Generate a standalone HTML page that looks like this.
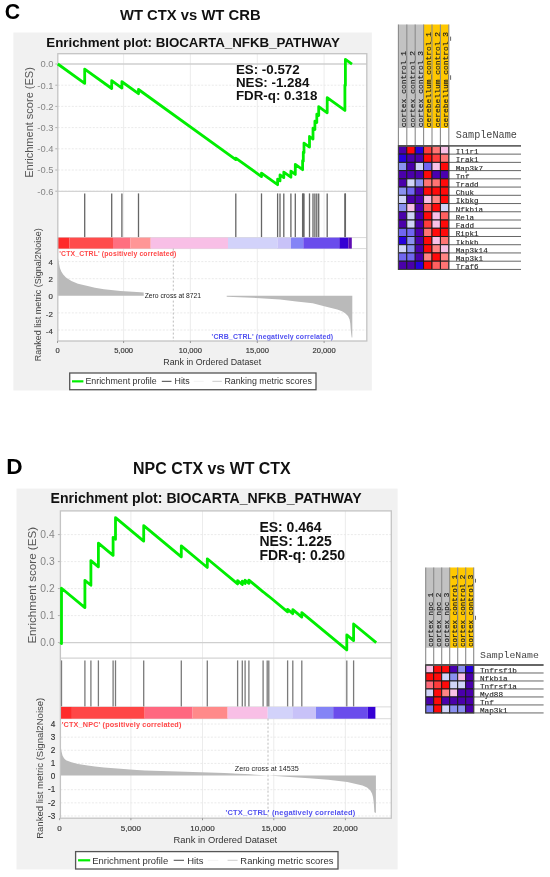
<!DOCTYPE html>
<html><head><meta charset="utf-8"><style>
html,body{margin:0;padding:0;background:#fff;width:550px;height:877px;overflow:hidden}
svg{display:block;filter:blur(0.35px)}

</style></head><body>
<svg width="550" height="877" viewBox="0 0 550 877">
<rect x="0.00" y="0.00" width="550.00" height="877.00" fill="#fff" />
<text x="4.80" y="18.90" font-family="'Liberation Sans', sans-serif" font-size="21.3" font-weight="bold" fill="#000" text-anchor="start" >C</text>
<text x="120.00" y="19.80" font-family="'Liberation Sans', sans-serif" font-size="14.8" font-weight="bold" fill="#111" text-anchor="start" >WT CTX vs WT CRB</text>
<text x="6.20" y="473.60" font-family="'Liberation Sans', sans-serif" font-size="22.6" font-weight="bold" fill="#000" text-anchor="start" >D</text>
<text x="133.10" y="474.30" font-family="'Liberation Sans', sans-serif" font-size="15.95" font-weight="bold" fill="#111" text-anchor="start" >NPC CTX vs WT CTX</text>
<rect x="13.40" y="32.50" width="358.40" height="358.00" fill="#f1f1f1" />
<rect x="57.80" y="53.70" width="309.00" height="287.30" fill="#fff" />
<line x1="123.60" y1="53.70" x2="123.60" y2="341.00" stroke="#eaeaea" stroke-width="0.9" />
<line x1="190.40" y1="53.70" x2="190.40" y2="341.00" stroke="#eaeaea" stroke-width="0.9" />
<line x1="257.30" y1="53.70" x2="257.30" y2="341.00" stroke="#eaeaea" stroke-width="0.9" />
<line x1="324.10" y1="53.70" x2="324.10" y2="341.00" stroke="#eaeaea" stroke-width="0.9" />
<text x="53.50" y="67.38" font-family="'Liberation Sans', sans-serif" font-size="9.4" font-weight="normal" fill="#858585" text-anchor="end" >0.0</text>
<line x1="55.30" y1="64.00" x2="57.80" y2="64.00" stroke="#b0b0b0" stroke-width="1" />
<line x1="57.80" y1="85.20" x2="366.80" y2="85.20" stroke="#e8e8e8" stroke-width="0.9" stroke-dasharray="2,1.5"/>
<text x="53.50" y="88.58" font-family="'Liberation Sans', sans-serif" font-size="9.4" font-weight="normal" fill="#858585" text-anchor="end" >-0.1</text>
<line x1="55.30" y1="85.20" x2="57.80" y2="85.20" stroke="#b0b0b0" stroke-width="1" />
<line x1="57.80" y1="106.40" x2="366.80" y2="106.40" stroke="#e8e8e8" stroke-width="0.9" stroke-dasharray="2,1.5"/>
<text x="53.50" y="109.78" font-family="'Liberation Sans', sans-serif" font-size="9.4" font-weight="normal" fill="#858585" text-anchor="end" >-0.2</text>
<line x1="55.30" y1="106.40" x2="57.80" y2="106.40" stroke="#b0b0b0" stroke-width="1" />
<line x1="57.80" y1="127.60" x2="366.80" y2="127.60" stroke="#e8e8e8" stroke-width="0.9" stroke-dasharray="2,1.5"/>
<text x="53.50" y="130.98" font-family="'Liberation Sans', sans-serif" font-size="9.4" font-weight="normal" fill="#858585" text-anchor="end" >-0.3</text>
<line x1="55.30" y1="127.60" x2="57.80" y2="127.60" stroke="#b0b0b0" stroke-width="1" />
<line x1="57.80" y1="148.80" x2="366.80" y2="148.80" stroke="#e8e8e8" stroke-width="0.9" stroke-dasharray="2,1.5"/>
<text x="53.50" y="152.18" font-family="'Liberation Sans', sans-serif" font-size="9.4" font-weight="normal" fill="#858585" text-anchor="end" >-0.4</text>
<line x1="55.30" y1="148.80" x2="57.80" y2="148.80" stroke="#b0b0b0" stroke-width="1" />
<line x1="57.80" y1="170.00" x2="366.80" y2="170.00" stroke="#e8e8e8" stroke-width="0.9" stroke-dasharray="2,1.5"/>
<text x="53.50" y="173.38" font-family="'Liberation Sans', sans-serif" font-size="9.4" font-weight="normal" fill="#858585" text-anchor="end" >-0.5</text>
<line x1="55.30" y1="170.00" x2="57.80" y2="170.00" stroke="#b0b0b0" stroke-width="1" />
<line x1="57.80" y1="191.20" x2="366.80" y2="191.20" stroke="#e8e8e8" stroke-width="0.9" stroke-dasharray="2,1.5"/>
<text x="53.50" y="194.58" font-family="'Liberation Sans', sans-serif" font-size="9.4" font-weight="normal" fill="#858585" text-anchor="end" >-0.6</text>
<line x1="55.30" y1="191.20" x2="57.80" y2="191.20" stroke="#b0b0b0" stroke-width="1" />
<line x1="57.80" y1="64.00" x2="366.80" y2="64.00" stroke="#cfcfcf" stroke-width="1.3" />
<line x1="57.80" y1="191.40" x2="366.80" y2="191.40" stroke="#d4d4d4" stroke-width="1.2" />
<line x1="84.70" y1="193.40" x2="84.70" y2="237.60" stroke="#666" stroke-width="1.3" />
<line x1="111.70" y1="193.40" x2="111.70" y2="237.60" stroke="#666" stroke-width="1.3" />
<line x1="121.90" y1="193.40" x2="121.90" y2="237.60" stroke="#666" stroke-width="1.3" />
<line x1="138.50" y1="193.40" x2="138.50" y2="237.60" stroke="#666" stroke-width="1.3" />
<line x1="235.80" y1="193.40" x2="235.80" y2="237.60" stroke="#666" stroke-width="1.3" />
<line x1="261.50" y1="193.40" x2="261.50" y2="237.60" stroke="#666" stroke-width="1.3" />
<line x1="277.60" y1="193.40" x2="277.60" y2="237.60" stroke="#666" stroke-width="1.3" />
<line x1="280.00" y1="193.40" x2="280.00" y2="237.60" stroke="#666" stroke-width="1.3" />
<line x1="283.80" y1="193.40" x2="283.80" y2="237.60" stroke="#666" stroke-width="1.3" />
<line x1="290.90" y1="193.40" x2="290.90" y2="237.60" stroke="#666" stroke-width="1.3" />
<line x1="295.30" y1="193.40" x2="295.30" y2="237.60" stroke="#666" stroke-width="1.3" />
<line x1="302.60" y1="193.40" x2="302.60" y2="237.60" stroke="#666" stroke-width="1.3" />
<line x1="303.30" y1="193.40" x2="303.30" y2="237.60" stroke="#666" stroke-width="1.3" />
<line x1="304.00" y1="193.40" x2="304.00" y2="237.60" stroke="#666" stroke-width="1.3" />
<line x1="309.50" y1="193.40" x2="309.50" y2="237.60" stroke="#666" stroke-width="1.3" />
<line x1="313.00" y1="193.40" x2="313.00" y2="237.60" stroke="#666" stroke-width="1.3" />
<line x1="314.90" y1="193.40" x2="314.90" y2="237.60" stroke="#666" stroke-width="1.3" />
<line x1="316.80" y1="193.40" x2="316.80" y2="237.60" stroke="#666" stroke-width="1.3" />
<line x1="318.70" y1="193.40" x2="318.70" y2="237.60" stroke="#666" stroke-width="1.3" />
<line x1="327.20" y1="193.40" x2="327.20" y2="237.60" stroke="#666" stroke-width="1.3" />
<line x1="344.90" y1="193.40" x2="344.90" y2="237.60" stroke="#666" stroke-width="1.3" />
<line x1="345.40" y1="193.40" x2="345.40" y2="237.60" stroke="#666" stroke-width="1.3" />
<line x1="57.80" y1="237.60" x2="366.80" y2="237.60" stroke="#dadada" stroke-width="1" />
<line x1="57.80" y1="248.60" x2="366.80" y2="248.60" stroke="#dadada" stroke-width="1" />
<rect x="57.80" y="237.60" width="11.70" height="11.00" fill="#ff2a2a" />
<rect x="69.50" y="237.60" width="43.50" height="11.00" fill="#ff4b4b" />
<rect x="113.00" y="237.60" width="17.50" height="11.00" fill="#ff6f80" />
<rect x="130.50" y="237.60" width="20.20" height="11.00" fill="#ff9696" />
<rect x="150.70" y="237.60" width="77.30" height="11.00" fill="#f8bfe6" />
<rect x="228.00" y="237.60" width="49.50" height="11.00" fill="#d2d2fa" />
<rect x="277.50" y="237.60" width="13.50" height="11.00" fill="#c8c2f8" />
<rect x="291.00" y="237.60" width="12.30" height="11.00" fill="#8484f6" />
<rect x="303.30" y="237.60" width="36.00" height="11.00" fill="#6a4cec" />
<rect x="339.30" y="237.60" width="9.10" height="11.00" fill="#3500d4" />
<rect x="348.40" y="237.60" width="3.40" height="11.00" fill="#5e0cb4" />
<line x1="57.80" y1="261.60" x2="366.80" y2="261.60" stroke="#e8e8e8" stroke-width="0.9" stroke-dasharray="2,1.5"/>
<line x1="57.80" y1="278.70" x2="366.80" y2="278.70" stroke="#e8e8e8" stroke-width="0.9" stroke-dasharray="2,1.5"/>
<line x1="57.80" y1="312.90" x2="366.80" y2="312.90" stroke="#e8e8e8" stroke-width="0.9" stroke-dasharray="2,1.5"/>
<line x1="57.80" y1="330.00" x2="366.80" y2="330.00" stroke="#e8e8e8" stroke-width="0.9" stroke-dasharray="2,1.5"/>
<path d="M57.80,295.80 L57.80,257.50 L58.30,259.80 L59.00,263.50 L59.90,268.00 L61.30,271.50 L63.20,274.50 L66.00,277.50 L71.40,281.10 L78.00,283.80 L87.70,286.00 L95.00,287.80 L104.00,289.30 L120.50,291.10 L136.80,292.10 L144.00,292.50 L150.00,293.20 L162.00,294.50 L173.30,295.80 L227.00,296.80 L260.00,298.20 L280.00,299.40 L296.40,301.40 L312.70,303.30 L324.20,306.30 L337.30,309.50 L342.00,311.30 L345.50,313.60 L348.00,316.00 L349.60,319.40 L350.30,323.50 L350.70,329.20 L351.20,334.00 L351.70,337.40 L352.30,337.60 L352.30,295.80 Z" fill="#bababa"/>
<line x1="173.30" y1="248.60" x2="173.30" y2="341.00" stroke="#b4b4b4" stroke-width="0.9" stroke-dasharray="2,2"/>
<rect x="143.70" y="291.94" width="83.00" height="7.46" fill="#fff" />
<text x="144.70" y="297.70" font-family="'Liberation Sans', sans-serif" font-size="6.78" font-weight="normal" fill="#222" text-anchor="start" >Zero cross at 8721</text>
<text x="52.90" y="264.64" font-family="'Liberation Sans', sans-serif" font-size="7.9" font-weight="normal" fill="#333" text-anchor="end" stroke="#333" stroke-width="0.15">4</text>
<text x="52.90" y="281.99" font-family="'Liberation Sans', sans-serif" font-size="7.9" font-weight="normal" fill="#333" text-anchor="end" stroke="#333" stroke-width="0.15">2</text>
<text x="52.90" y="299.34" font-family="'Liberation Sans', sans-serif" font-size="7.9" font-weight="normal" fill="#333" text-anchor="end" stroke="#333" stroke-width="0.15">0</text>
<text x="52.90" y="316.69" font-family="'Liberation Sans', sans-serif" font-size="7.9" font-weight="normal" fill="#333" text-anchor="end" stroke="#333" stroke-width="0.15">-2</text>
<text x="52.90" y="334.04" font-family="'Liberation Sans', sans-serif" font-size="7.9" font-weight="normal" fill="#333" text-anchor="end" stroke="#333" stroke-width="0.15">-4</text>
<text x="59.30" y="256.30" font-family="'Liberation Sans', sans-serif" font-size="6.85" font-weight="bold" fill="#ff4848" text-anchor="start" letter-spacing="0.15">'CTX_CTRL' (positively correlated)</text>
<text x="211.60" y="338.60" font-family="'Liberation Sans', sans-serif" font-size="6.95" font-weight="bold" fill="#5050f0" text-anchor="start" letter-spacing="0.15">'CRB_CTRL' (negatively correlated)</text>
<rect x="57.80" y="53.70" width="309.00" height="287.30" fill="none" stroke="#c4c4c4" stroke-width="1.3"/>
<path d="M57.80,64.00 L84.70,83.37 L84.70,69.07 L111.70,88.51 L111.70,80.71 L121.90,88.05 L121.90,81.75 L138.50,93.70 L138.50,89.50 L235.80,159.56 L235.80,158.06 L261.50,176.56 L261.50,173.06 L277.60,184.66 L277.60,179.16 L280.00,180.88 L280.00,174.88 L283.80,177.62 L283.80,172.12 L290.90,177.23 L290.90,171.23 L295.30,174.40 L295.30,164.40 L302.60,169.66 L302.60,160.66 L303.30,161.16 L303.30,152.16 L304.00,152.66 L304.00,143.06 L309.50,147.02 L309.50,136.52 L313.00,139.04 L313.00,128.14 L314.90,129.51 L314.90,121.16 L316.80,122.53 L316.80,114.18 L318.70,115.55 L318.70,106.65 L327.20,112.77 L327.20,97.67 L344.90,110.41 L344.90,85.11 L345.40,85.47 L345.40,59.47 L352.00,64.22" fill="none" stroke="#00ee00" stroke-width="2.8" stroke-linejoin="round" stroke-linecap="butt"/>
<text x="57.50" y="352.90" font-family="'Liberation Sans', sans-serif" font-size="7.55" font-weight="normal" fill="#333" text-anchor="middle" stroke="#333" stroke-width="0.15">0</text>
<line x1="57.50" y1="341.00" x2="57.50" y2="343.00" stroke="#999" stroke-width="1" />
<text x="123.60" y="352.90" font-family="'Liberation Sans', sans-serif" font-size="7.55" font-weight="normal" fill="#333" text-anchor="middle" stroke="#333" stroke-width="0.15">5,000</text>
<line x1="123.60" y1="341.00" x2="123.60" y2="343.00" stroke="#999" stroke-width="1" />
<text x="190.40" y="352.90" font-family="'Liberation Sans', sans-serif" font-size="7.55" font-weight="normal" fill="#333" text-anchor="middle" stroke="#333" stroke-width="0.15">10,000</text>
<line x1="190.40" y1="341.00" x2="190.40" y2="343.00" stroke="#999" stroke-width="1" />
<text x="257.30" y="352.90" font-family="'Liberation Sans', sans-serif" font-size="7.55" font-weight="normal" fill="#333" text-anchor="middle" stroke="#333" stroke-width="0.15">15,000</text>
<line x1="257.30" y1="341.00" x2="257.30" y2="343.00" stroke="#999" stroke-width="1" />
<text x="324.10" y="352.90" font-family="'Liberation Sans', sans-serif" font-size="7.55" font-weight="normal" fill="#333" text-anchor="middle" stroke="#333" stroke-width="0.15">20,000</text>
<line x1="324.10" y1="341.00" x2="324.10" y2="343.00" stroke="#999" stroke-width="1" />
<text x="163.30" y="365.10" font-family="'Liberation Sans', sans-serif" font-size="8.85" font-weight="normal" fill="#333" text-anchor="start" >Rank in Ordered Dataset</text>
<text x="0" y="0" font-family="'Liberation Sans', sans-serif" font-size="11.0" font-weight="normal" fill="#555" text-anchor="middle" dominant-baseline="central" transform="translate(28.70,122.50) rotate(-90)">Enrichment score (ES)</text>
<text x="0" y="0" font-family="'Liberation Sans', sans-serif" font-size="9.0" font-weight="normal" fill="#444" text-anchor="middle" dominant-baseline="central" transform="translate(37.90,294.80) rotate(-90)">Ranked list metric (Signal2Noise)</text>
<text x="235.90" y="73.80" font-family="'Liberation Sans', sans-serif" font-size="13.35" font-weight="bold" fill="#111" text-anchor="start" >ES: -0.572</text>
<text x="235.90" y="86.70" font-family="'Liberation Sans', sans-serif" font-size="13.35" font-weight="bold" fill="#111" text-anchor="start" >NES: -1.284</text>
<text x="235.90" y="99.60" font-family="'Liberation Sans', sans-serif" font-size="13.35" font-weight="bold" fill="#111" text-anchor="start" >FDR-q: 0.318</text>
<text x="46.30" y="46.50" font-family="'Liberation Sans', sans-serif" font-size="13.3" font-weight="bold" fill="#111" text-anchor="start" >Enrichment plot: BIOCARTA_NFKB_PATHWAY</text>
<rect x="69.70" y="373.00" width="246.30" height="16.70" fill="#fff" stroke="#555" stroke-width="1.3"/>
<line x1="72.00" y1="381.35" x2="83.40" y2="381.35" stroke="#00ee00" stroke-width="2.2" />
<text x="85.40" y="384.45" font-family="'Liberation Sans', sans-serif" font-size="8.85" font-weight="normal" fill="#333" text-anchor="start" >Enrichment profile</text>
<line x1="161.80" y1="381.35" x2="171.50" y2="381.35" stroke="#555" stroke-width="1.1" />
<text x="174.50" y="384.45" font-family="'Liberation Sans', sans-serif" font-size="8.85" font-weight="normal" fill="#333" text-anchor="start" >Hits</text>
<line x1="193.70" y1="381.35" x2="203.70" y2="381.35" stroke="#f4f4f4" stroke-width="1.1" />
<line x1="212.40" y1="381.35" x2="221.80" y2="381.35" stroke="#d0d0d0" stroke-width="1.1" />
<text x="224.40" y="384.45" font-family="'Liberation Sans', sans-serif" font-size="8.85" font-weight="normal" fill="#333" text-anchor="start" >Ranking metric scores</text>
<rect x="16.50" y="488.60" width="381.10" height="380.80" fill="#f1f1f1" />
<rect x="60.40" y="510.90" width="330.90" height="307.30" fill="#fff" />
<line x1="130.90" y1="510.90" x2="130.90" y2="818.20" stroke="#eaeaea" stroke-width="0.9" />
<line x1="202.50" y1="510.90" x2="202.50" y2="818.20" stroke="#eaeaea" stroke-width="0.9" />
<line x1="273.80" y1="510.90" x2="273.80" y2="818.20" stroke="#eaeaea" stroke-width="0.9" />
<line x1="345.40" y1="510.90" x2="345.40" y2="818.20" stroke="#eaeaea" stroke-width="0.9" />
<text x="54.70" y="646.31" font-family="'Liberation Sans', sans-serif" font-size="10.3" font-weight="normal" fill="#858585" text-anchor="end" >0.0</text>
<line x1="57.90" y1="642.60" x2="60.40" y2="642.60" stroke="#b0b0b0" stroke-width="1" />
<line x1="60.40" y1="615.60" x2="391.30" y2="615.60" stroke="#e8e8e8" stroke-width="0.9" stroke-dasharray="2,1.5"/>
<text x="54.70" y="619.31" font-family="'Liberation Sans', sans-serif" font-size="10.3" font-weight="normal" fill="#858585" text-anchor="end" >0.1</text>
<line x1="57.90" y1="615.60" x2="60.40" y2="615.60" stroke="#b0b0b0" stroke-width="1" />
<line x1="60.40" y1="588.60" x2="391.30" y2="588.60" stroke="#e8e8e8" stroke-width="0.9" stroke-dasharray="2,1.5"/>
<text x="54.70" y="592.31" font-family="'Liberation Sans', sans-serif" font-size="10.3" font-weight="normal" fill="#858585" text-anchor="end" >0.2</text>
<line x1="57.90" y1="588.60" x2="60.40" y2="588.60" stroke="#b0b0b0" stroke-width="1" />
<line x1="60.40" y1="561.60" x2="391.30" y2="561.60" stroke="#e8e8e8" stroke-width="0.9" stroke-dasharray="2,1.5"/>
<text x="54.70" y="565.31" font-family="'Liberation Sans', sans-serif" font-size="10.3" font-weight="normal" fill="#858585" text-anchor="end" >0.3</text>
<line x1="57.90" y1="561.60" x2="60.40" y2="561.60" stroke="#b0b0b0" stroke-width="1" />
<line x1="60.40" y1="534.60" x2="391.30" y2="534.60" stroke="#e8e8e8" stroke-width="0.9" stroke-dasharray="2,1.5"/>
<text x="54.70" y="538.31" font-family="'Liberation Sans', sans-serif" font-size="10.3" font-weight="normal" fill="#858585" text-anchor="end" >0.4</text>
<line x1="57.90" y1="534.60" x2="60.40" y2="534.60" stroke="#b0b0b0" stroke-width="1" />
<line x1="60.40" y1="642.60" x2="391.30" y2="642.60" stroke="#cfcfcf" stroke-width="1.3" />
<line x1="60.40" y1="658.20" x2="391.30" y2="658.20" stroke="#d4d4d4" stroke-width="1.2" />
<line x1="61.50" y1="660.40" x2="61.50" y2="706.90" stroke="#7a7a7a" stroke-width="1.3" />
<line x1="84.90" y1="660.40" x2="84.90" y2="706.90" stroke="#7a7a7a" stroke-width="1.3" />
<line x1="90.90" y1="660.40" x2="90.90" y2="706.90" stroke="#7a7a7a" stroke-width="1.3" />
<line x1="98.40" y1="660.40" x2="98.40" y2="706.90" stroke="#7a7a7a" stroke-width="1.3" />
<line x1="113.10" y1="660.40" x2="113.10" y2="706.90" stroke="#7a7a7a" stroke-width="1.3" />
<line x1="115.50" y1="660.40" x2="115.50" y2="706.90" stroke="#7a7a7a" stroke-width="1.3" />
<line x1="143.70" y1="660.40" x2="143.70" y2="706.90" stroke="#7a7a7a" stroke-width="1.3" />
<line x1="181.30" y1="660.40" x2="181.30" y2="706.90" stroke="#7a7a7a" stroke-width="1.3" />
<line x1="207.30" y1="660.40" x2="207.30" y2="706.90" stroke="#7a7a7a" stroke-width="1.3" />
<line x1="237.60" y1="660.40" x2="237.60" y2="706.90" stroke="#7a7a7a" stroke-width="1.3" />
<line x1="242.30" y1="660.40" x2="242.30" y2="706.90" stroke="#7a7a7a" stroke-width="1.3" />
<line x1="245.10" y1="660.40" x2="245.10" y2="706.90" stroke="#7a7a7a" stroke-width="1.3" />
<line x1="248.90" y1="660.40" x2="248.90" y2="706.90" stroke="#7a7a7a" stroke-width="1.3" />
<line x1="263.10" y1="660.40" x2="263.10" y2="706.90" stroke="#7a7a7a" stroke-width="1.3" />
<line x1="267.20" y1="660.40" x2="267.20" y2="706.90" stroke="#7a7a7a" stroke-width="1.3" />
<line x1="268.80" y1="660.40" x2="268.80" y2="706.90" stroke="#7a7a7a" stroke-width="1.3" />
<line x1="287.60" y1="660.40" x2="287.60" y2="706.90" stroke="#7a7a7a" stroke-width="1.3" />
<line x1="292.80" y1="660.40" x2="292.80" y2="706.90" stroke="#7a7a7a" stroke-width="1.3" />
<line x1="301.80" y1="660.40" x2="301.80" y2="706.90" stroke="#7a7a7a" stroke-width="1.3" />
<line x1="346.80" y1="660.40" x2="346.80" y2="706.90" stroke="#7a7a7a" stroke-width="1.3" />
<line x1="353.60" y1="660.40" x2="353.60" y2="706.90" stroke="#7a7a7a" stroke-width="1.3" />
<line x1="60.40" y1="706.90" x2="391.30" y2="706.90" stroke="#dadada" stroke-width="1" />
<line x1="60.40" y1="718.70" x2="391.30" y2="718.70" stroke="#dadada" stroke-width="1" />
<rect x="60.40" y="706.90" width="11.50" height="11.80" fill="#ff2a2a" />
<rect x="71.90" y="706.90" width="72.80" height="11.80" fill="#ff4646" />
<rect x="144.70" y="706.90" width="47.90" height="11.80" fill="#ff6880" />
<rect x="192.60" y="706.90" width="35.00" height="11.80" fill="#ff8a8a" />
<rect x="227.60" y="706.90" width="40.10" height="11.80" fill="#f8bfe6" />
<rect x="267.70" y="706.90" width="24.60" height="11.80" fill="#d2d2fa" />
<rect x="292.30" y="706.90" width="23.70" height="11.80" fill="#c8c2f8" />
<rect x="316.00" y="706.90" width="17.20" height="11.80" fill="#8484f6" />
<rect x="333.20" y="706.90" width="34.60" height="11.80" fill="#6a4cec" />
<rect x="367.80" y="706.90" width="7.60" height="11.80" fill="#3500d4" />
<line x1="60.40" y1="724.00" x2="391.30" y2="724.00" stroke="#e8e8e8" stroke-width="0.9" stroke-dasharray="2,1.5"/>
<line x1="60.40" y1="737.14" x2="391.30" y2="737.14" stroke="#e8e8e8" stroke-width="0.9" stroke-dasharray="2,1.5"/>
<line x1="60.40" y1="750.28" x2="391.30" y2="750.28" stroke="#e8e8e8" stroke-width="0.9" stroke-dasharray="2,1.5"/>
<line x1="60.40" y1="763.42" x2="391.30" y2="763.42" stroke="#e8e8e8" stroke-width="0.9" stroke-dasharray="2,1.5"/>
<line x1="60.40" y1="789.70" x2="391.30" y2="789.70" stroke="#e8e8e8" stroke-width="0.9" stroke-dasharray="2,1.5"/>
<line x1="60.40" y1="802.84" x2="391.30" y2="802.84" stroke="#e8e8e8" stroke-width="0.9" stroke-dasharray="2,1.5"/>
<line x1="60.40" y1="815.98" x2="391.30" y2="815.98" stroke="#e8e8e8" stroke-width="0.9" stroke-dasharray="2,1.5"/>
<path d="M60.40,775.60 L60.40,744.50 L60.80,747.00 L61.40,751.00 L62.50,755.50 L64.00,758.30 L66.00,760.30 L71.40,762.20 L78.00,764.00 L87.70,765.50 L95.00,766.60 L104.00,767.50 L120.50,768.80 L130.00,769.50 L136.80,770.00 L145.00,770.40 L177.30,771.40 L224.60,772.90 L250.00,774.30 L268.00,775.60 L290.00,777.00 L309.10,778.30 L328.20,779.80 L347.30,782.10 L362.50,785.50 L367.00,787.50 L370.20,790.30 L372.00,793.50 L373.00,797.00 L373.80,803.00 L374.40,812.30 L375.90,813.00 L375.90,775.60 Z" fill="#bababa"/>
<line x1="268.00" y1="718.70" x2="268.00" y2="818.20" stroke="#b4b4b4" stroke-width="0.9" stroke-dasharray="2,2"/>
<rect x="233.80" y="765.28" width="66.00" height="7.92" fill="#fff" />
<text x="234.80" y="771.40" font-family="'Liberation Sans', sans-serif" font-size="7.2" font-weight="normal" fill="#222" text-anchor="start" >Zero cross at 14535</text>
<text x="55.30" y="726.95" font-family="'Liberation Sans', sans-serif" font-size="8.2" font-weight="normal" fill="#333" text-anchor="end" stroke="#333" stroke-width="0.15">4</text>
<text x="55.30" y="740.05" font-family="'Liberation Sans', sans-serif" font-size="8.2" font-weight="normal" fill="#333" text-anchor="end" stroke="#333" stroke-width="0.15">3</text>
<text x="55.30" y="753.15" font-family="'Liberation Sans', sans-serif" font-size="8.2" font-weight="normal" fill="#333" text-anchor="end" stroke="#333" stroke-width="0.15">2</text>
<text x="55.30" y="766.25" font-family="'Liberation Sans', sans-serif" font-size="8.2" font-weight="normal" fill="#333" text-anchor="end" stroke="#333" stroke-width="0.15">1</text>
<text x="55.30" y="779.35" font-family="'Liberation Sans', sans-serif" font-size="8.2" font-weight="normal" fill="#333" text-anchor="end" stroke="#333" stroke-width="0.15">0</text>
<text x="55.30" y="792.45" font-family="'Liberation Sans', sans-serif" font-size="8.2" font-weight="normal" fill="#333" text-anchor="end" stroke="#333" stroke-width="0.15">-1</text>
<text x="55.30" y="805.55" font-family="'Liberation Sans', sans-serif" font-size="8.2" font-weight="normal" fill="#333" text-anchor="end" stroke="#333" stroke-width="0.15">-2</text>
<text x="55.30" y="818.65" font-family="'Liberation Sans', sans-serif" font-size="8.2" font-weight="normal" fill="#333" text-anchor="end" stroke="#333" stroke-width="0.15">-3</text>
<text x="61.70" y="726.90" font-family="'Liberation Sans', sans-serif" font-size="7.27" font-weight="bold" fill="#ff4848" text-anchor="start" letter-spacing="0.15">'CTX_NPC' (positively correlated)</text>
<text x="225.50" y="815.20" font-family="'Liberation Sans', sans-serif" font-size="7.5" font-weight="bold" fill="#5050f0" text-anchor="start" letter-spacing="0.15">'CTX_CTRL' (negatively correlated)</text>
<rect x="60.40" y="510.90" width="330.90" height="307.30" fill="none" stroke="#c4c4c4" stroke-width="1.3"/>
<path d="M60.40,642.60 L61.50,643.51 L61.50,588.21 L84.90,607.61 L84.90,580.31 L90.90,585.28 L90.90,560.58 L98.40,566.80 L98.40,543.20 L113.10,555.39 L113.10,537.29 L115.50,539.28 L115.50,517.68 L143.70,541.06 L143.70,525.66 L181.30,556.83 L181.30,545.93 L207.30,567.48 L207.30,558.78 L237.60,583.90 L237.60,580.60 L242.30,584.50 L242.30,581.20 L245.10,583.52 L245.10,580.22 L248.90,583.37 L248.90,580.07 L263.10,591.84 L263.10,591.74 L267.20,595.14 L267.20,595.04 L268.80,596.36 L268.80,596.26 L287.60,611.85 L287.60,609.35 L292.80,613.66 L292.80,609.66 L301.80,617.12 L301.80,612.62 L346.80,649.93 L346.80,634.93 L353.60,640.56 L353.60,623.96 L376.20,642.70" fill="none" stroke="#00ee00" stroke-width="2.8" stroke-linejoin="round" stroke-linecap="butt"/>
<text x="59.60" y="830.70" font-family="'Liberation Sans', sans-serif" font-size="8.05" font-weight="normal" fill="#333" text-anchor="middle" stroke="#333" stroke-width="0.15">0</text>
<line x1="59.60" y1="818.20" x2="59.60" y2="820.20" stroke="#999" stroke-width="1" />
<text x="130.90" y="830.70" font-family="'Liberation Sans', sans-serif" font-size="8.05" font-weight="normal" fill="#333" text-anchor="middle" stroke="#333" stroke-width="0.15">5,000</text>
<line x1="130.90" y1="818.20" x2="130.90" y2="820.20" stroke="#999" stroke-width="1" />
<text x="202.50" y="830.70" font-family="'Liberation Sans', sans-serif" font-size="8.05" font-weight="normal" fill="#333" text-anchor="middle" stroke="#333" stroke-width="0.15">10,000</text>
<line x1="202.50" y1="818.20" x2="202.50" y2="820.20" stroke="#999" stroke-width="1" />
<text x="273.80" y="830.70" font-family="'Liberation Sans', sans-serif" font-size="8.05" font-weight="normal" fill="#333" text-anchor="middle" stroke="#333" stroke-width="0.15">15,000</text>
<line x1="273.80" y1="818.20" x2="273.80" y2="820.20" stroke="#999" stroke-width="1" />
<text x="345.40" y="830.70" font-family="'Liberation Sans', sans-serif" font-size="8.05" font-weight="normal" fill="#333" text-anchor="middle" stroke="#333" stroke-width="0.15">20,000</text>
<line x1="345.40" y1="818.20" x2="345.40" y2="820.20" stroke="#999" stroke-width="1" />
<text x="173.50" y="842.50" font-family="'Liberation Sans', sans-serif" font-size="9.4" font-weight="normal" fill="#333" text-anchor="start" >Rank in Ordered Dataset</text>
<text x="0" y="0" font-family="'Liberation Sans', sans-serif" font-size="11.6" font-weight="normal" fill="#555" text-anchor="middle" dominant-baseline="central" transform="translate(31.70,585.30) rotate(-90)">Enrichment score (ES)</text>
<text x="0" y="0" font-family="'Liberation Sans', sans-serif" font-size="9.55" font-weight="normal" fill="#444" text-anchor="middle" dominant-baseline="central" transform="translate(39.10,768.30) rotate(-90)">Ranked list metric (Signal2Noise)</text>
<text x="259.40" y="531.50" font-family="'Liberation Sans', sans-serif" font-size="14.0" font-weight="bold" fill="#111" text-anchor="start" >ES: 0.464</text>
<text x="259.40" y="545.50" font-family="'Liberation Sans', sans-serif" font-size="14.0" font-weight="bold" fill="#111" text-anchor="start" >NES: 1.225</text>
<text x="259.40" y="559.50" font-family="'Liberation Sans', sans-serif" font-size="14.0" font-weight="bold" fill="#111" text-anchor="start" >FDR-q: 0.250</text>
<text x="50.50" y="502.80" font-family="'Liberation Sans', sans-serif" font-size="14.1" font-weight="bold" fill="#111" text-anchor="start" >Enrichment plot: BIOCARTA_NFKB_PATHWAY</text>
<rect x="75.60" y="851.60" width="262.40" height="17.40" fill="#fff" stroke="#555" stroke-width="1.3"/>
<line x1="78.05" y1="860.30" x2="90.19" y2="860.30" stroke="#00ee00" stroke-width="2.2" />
<text x="92.32" y="863.60" font-family="'Liberation Sans', sans-serif" font-size="9.425249999999998" font-weight="normal" fill="#333" text-anchor="start" >Enrichment profile</text>
<line x1="173.69" y1="860.30" x2="184.02" y2="860.30" stroke="#555" stroke-width="1.1" />
<text x="187.21" y="863.60" font-family="'Liberation Sans', sans-serif" font-size="9.425249999999998" font-weight="normal" fill="#333" text-anchor="start" >Hits</text>
<line x1="207.66" y1="860.30" x2="218.31" y2="860.30" stroke="#f4f4f4" stroke-width="1.1" />
<line x1="227.58" y1="860.30" x2="237.59" y2="860.30" stroke="#d0d0d0" stroke-width="1.1" />
<text x="240.36" y="863.60" font-family="'Liberation Sans', sans-serif" font-size="9.425249999999998" font-weight="normal" fill="#333" text-anchor="start" >Ranking metric scores</text>
<rect x="398.40" y="24.50" width="8.40" height="103.50" fill="#c2c2c2" />
<rect x="406.80" y="24.50" width="8.40" height="103.50" fill="#c2c2c2" />
<rect x="415.20" y="24.50" width="8.40" height="103.50" fill="#c2c2c2" />
<rect x="423.60" y="24.50" width="8.40" height="103.50" fill="#ffc800" />
<rect x="432.00" y="24.50" width="8.40" height="103.50" fill="#ffc800" />
<rect x="440.40" y="24.50" width="8.40" height="103.50" fill="#ffc800" />
<rect x="398.40" y="128.00" width="50.40" height="17.90" fill="#fff" />
<text x="0" y="0" font-family="'Liberation Mono', monospace" font-size="7.95" fill="#1e1e1e" stroke="#1e1e1e" stroke-width="0.18" transform="translate(406.25,127.20) rotate(-90)">cortex_control_1</text>
<text x="0" y="0" font-family="'Liberation Mono', monospace" font-size="7.95" fill="#1e1e1e" stroke="#1e1e1e" stroke-width="0.18" transform="translate(414.65,127.20) rotate(-90)">cortex_control_2</text>
<text x="0" y="0" font-family="'Liberation Mono', monospace" font-size="7.95" fill="#1e1e1e" stroke="#1e1e1e" stroke-width="0.18" transform="translate(423.05,127.20) rotate(-90)">cortex_control_3</text>
<text x="0" y="0" font-family="'Liberation Mono', monospace" font-size="7.95" fill="#1e1e1e" stroke="#1e1e1e" stroke-width="0.18" transform="translate(431.45,127.20) rotate(-90)">cerebellum_control_1</text>
<text x="0" y="0" font-family="'Liberation Mono', monospace" font-size="7.95" fill="#1e1e1e" stroke="#1e1e1e" stroke-width="0.18" transform="translate(439.85,127.20) rotate(-90)">cerebellum_control_2</text>
<text x="0" y="0" font-family="'Liberation Mono', monospace" font-size="7.95" fill="#1e1e1e" stroke="#1e1e1e" stroke-width="0.18" transform="translate(448.25,127.20) rotate(-90)">cerebellum_control_3</text>
<line x1="450.60" y1="36.60" x2="450.60" y2="40.80" stroke="#666" stroke-width="1.0" />
<line x1="450.60" y1="75.30" x2="450.60" y2="79.80" stroke="#666" stroke-width="1.0" />
<line x1="398.40" y1="24.50" x2="398.40" y2="145.90" stroke="#8a8a8a" stroke-width="1.1" />
<line x1="406.80" y1="24.50" x2="406.80" y2="145.90" stroke="#8a8a8a" stroke-width="1.1" />
<line x1="415.20" y1="24.50" x2="415.20" y2="145.90" stroke="#8a8a8a" stroke-width="1.1" />
<line x1="423.60" y1="24.50" x2="423.60" y2="145.90" stroke="#8a8a8a" stroke-width="1.1" />
<line x1="432.00" y1="24.50" x2="432.00" y2="145.90" stroke="#8a8a8a" stroke-width="1.1" />
<line x1="440.40" y1="24.50" x2="440.40" y2="145.90" stroke="#8a8a8a" stroke-width="1.1" />
<line x1="448.80" y1="24.50" x2="448.80" y2="145.90" stroke="#8a8a8a" stroke-width="1.1" />
<rect x="398.40" y="145.90" width="8.40" height="8.23" fill="#4a00aa" stroke="#1a1a1a" stroke-width="0.95"/>
<rect x="406.80" y="145.90" width="8.40" height="8.23" fill="#ff0a0a" stroke="#1a1a1a" stroke-width="0.95"/>
<rect x="415.20" y="145.90" width="8.40" height="8.23" fill="#2600dc" stroke="#1a1a1a" stroke-width="0.95"/>
<rect x="423.60" y="145.90" width="8.40" height="8.23" fill="#ff3c3c" stroke="#1a1a1a" stroke-width="0.95"/>
<rect x="432.00" y="145.90" width="8.40" height="8.23" fill="#ff7474" stroke="#1a1a1a" stroke-width="0.95"/>
<rect x="440.40" y="145.90" width="8.40" height="8.23" fill="#f9c0e6" stroke="#1a1a1a" stroke-width="0.95"/>
<text x="455.80" y="154.03" font-family="'Liberation Mono', monospace" font-size="7.6" font-weight="normal" fill="#1e1e1e" text-anchor="start" stroke="#1e1e1e" stroke-width="0.12">Il1r1</text>
<line x1="448.80" y1="154.13" x2="521.00" y2="154.13" stroke="#666" stroke-width="1.0" />
<rect x="398.40" y="154.13" width="8.40" height="8.23" fill="#2600dc" stroke="#1a1a1a" stroke-width="0.95"/>
<rect x="406.80" y="154.13" width="8.40" height="8.23" fill="#4a00aa" stroke="#1a1a1a" stroke-width="0.95"/>
<rect x="415.20" y="154.13" width="8.40" height="8.23" fill="#4a00aa" stroke="#1a1a1a" stroke-width="0.95"/>
<rect x="423.60" y="154.13" width="8.40" height="8.23" fill="#ff0a0a" stroke="#1a1a1a" stroke-width="0.95"/>
<rect x="432.00" y="154.13" width="8.40" height="8.23" fill="#ff3c3c" stroke="#1a1a1a" stroke-width="0.95"/>
<rect x="440.40" y="154.13" width="8.40" height="8.23" fill="#ff7474" stroke="#1a1a1a" stroke-width="0.95"/>
<text x="455.80" y="162.27" font-family="'Liberation Mono', monospace" font-size="7.6" font-weight="normal" fill="#1e1e1e" text-anchor="start" stroke="#1e1e1e" stroke-width="0.12">Irak1</text>
<line x1="448.80" y1="162.37" x2="521.00" y2="162.37" stroke="#666" stroke-width="1.0" />
<rect x="398.40" y="162.37" width="8.40" height="8.23" fill="#8a90f0" stroke="#1a1a1a" stroke-width="0.95"/>
<rect x="406.80" y="162.37" width="8.40" height="8.23" fill="#4a00aa" stroke="#1a1a1a" stroke-width="0.95"/>
<rect x="415.20" y="162.37" width="8.40" height="8.23" fill="#d0d4f8" stroke="#1a1a1a" stroke-width="0.95"/>
<rect x="423.60" y="162.37" width="8.40" height="8.23" fill="#7066f0" stroke="#1a1a1a" stroke-width="0.95"/>
<rect x="432.00" y="162.37" width="8.40" height="8.23" fill="#f9c0e6" stroke="#1a1a1a" stroke-width="0.95"/>
<rect x="440.40" y="162.37" width="8.40" height="8.23" fill="#ff0a0a" stroke="#1a1a1a" stroke-width="0.95"/>
<text x="455.80" y="170.51" font-family="'Liberation Mono', monospace" font-size="7.6" font-weight="normal" fill="#1e1e1e" text-anchor="start" stroke="#1e1e1e" stroke-width="0.12">Map3k7</text>
<line x1="448.80" y1="170.61" x2="521.00" y2="170.61" stroke="#666" stroke-width="1.0" />
<rect x="398.40" y="170.61" width="8.40" height="8.23" fill="#4a00aa" stroke="#1a1a1a" stroke-width="0.95"/>
<rect x="406.80" y="170.61" width="8.40" height="8.23" fill="#4a00aa" stroke="#1a1a1a" stroke-width="0.95"/>
<rect x="415.20" y="170.61" width="8.40" height="8.23" fill="#4a00aa" stroke="#1a1a1a" stroke-width="0.95"/>
<rect x="423.60" y="170.61" width="8.40" height="8.23" fill="#ff0a0a" stroke="#1a1a1a" stroke-width="0.95"/>
<rect x="432.00" y="170.61" width="8.40" height="8.23" fill="#4a00b0" stroke="#1a1a1a" stroke-width="0.95"/>
<rect x="440.40" y="170.61" width="8.40" height="8.23" fill="#4a00b0" stroke="#1a1a1a" stroke-width="0.95"/>
<text x="455.80" y="178.74" font-family="'Liberation Mono', monospace" font-size="7.6" font-weight="normal" fill="#1e1e1e" text-anchor="start" stroke="#1e1e1e" stroke-width="0.12">Tnf</text>
<line x1="448.80" y1="178.84" x2="521.00" y2="178.84" stroke="#666" stroke-width="1.0" />
<rect x="398.40" y="178.84" width="8.40" height="8.23" fill="#4a00aa" stroke="#1a1a1a" stroke-width="0.95"/>
<rect x="406.80" y="178.84" width="8.40" height="8.23" fill="#d0d4f8" stroke="#1a1a1a" stroke-width="0.95"/>
<rect x="415.20" y="178.84" width="8.40" height="8.23" fill="#8a90f0" stroke="#1a1a1a" stroke-width="0.95"/>
<rect x="423.60" y="178.84" width="8.40" height="8.23" fill="#ff7474" stroke="#1a1a1a" stroke-width="0.95"/>
<rect x="432.00" y="178.84" width="8.40" height="8.23" fill="#ff7474" stroke="#1a1a1a" stroke-width="0.95"/>
<rect x="440.40" y="178.84" width="8.40" height="8.23" fill="#ff0a0a" stroke="#1a1a1a" stroke-width="0.95"/>
<text x="455.80" y="186.97" font-family="'Liberation Mono', monospace" font-size="7.6" font-weight="normal" fill="#1e1e1e" text-anchor="start" stroke="#1e1e1e" stroke-width="0.12">Tradd</text>
<line x1="448.80" y1="187.07" x2="521.00" y2="187.07" stroke="#666" stroke-width="1.0" />
<rect x="398.40" y="187.07" width="8.40" height="8.23" fill="#8a90f0" stroke="#1a1a1a" stroke-width="0.95"/>
<rect x="406.80" y="187.07" width="8.40" height="8.23" fill="#7066f0" stroke="#1a1a1a" stroke-width="0.95"/>
<rect x="415.20" y="187.07" width="8.40" height="8.23" fill="#4a00aa" stroke="#1a1a1a" stroke-width="0.95"/>
<rect x="423.60" y="187.07" width="8.40" height="8.23" fill="#ff0a0a" stroke="#1a1a1a" stroke-width="0.95"/>
<rect x="432.00" y="187.07" width="8.40" height="8.23" fill="#ff0a0a" stroke="#1a1a1a" stroke-width="0.95"/>
<rect x="440.40" y="187.07" width="8.40" height="8.23" fill="#ff0a0a" stroke="#1a1a1a" stroke-width="0.95"/>
<text x="455.80" y="195.21" font-family="'Liberation Mono', monospace" font-size="7.6" font-weight="normal" fill="#1e1e1e" text-anchor="start" stroke="#1e1e1e" stroke-width="0.12">Chuk</text>
<line x1="448.80" y1="195.31" x2="521.00" y2="195.31" stroke="#666" stroke-width="1.0" />
<rect x="398.40" y="195.31" width="8.40" height="8.23" fill="#d0d4f8" stroke="#1a1a1a" stroke-width="0.95"/>
<rect x="406.80" y="195.31" width="8.40" height="8.23" fill="#4a00aa" stroke="#1a1a1a" stroke-width="0.95"/>
<rect x="415.20" y="195.31" width="8.40" height="8.23" fill="#4a00aa" stroke="#1a1a1a" stroke-width="0.95"/>
<rect x="423.60" y="195.31" width="8.40" height="8.23" fill="#f9c0e6" stroke="#1a1a1a" stroke-width="0.95"/>
<rect x="432.00" y="195.31" width="8.40" height="8.23" fill="#ff8484" stroke="#1a1a1a" stroke-width="0.95"/>
<rect x="440.40" y="195.31" width="8.40" height="8.23" fill="#ff0a0a" stroke="#1a1a1a" stroke-width="0.95"/>
<text x="455.80" y="203.45" font-family="'Liberation Mono', monospace" font-size="7.6" font-weight="normal" fill="#1e1e1e" text-anchor="start" stroke="#1e1e1e" stroke-width="0.12">Ikbkg</text>
<line x1="448.80" y1="203.55" x2="521.00" y2="203.55" stroke="#666" stroke-width="1.0" />
<rect x="398.40" y="203.55" width="8.40" height="8.23" fill="#8a90f0" stroke="#1a1a1a" stroke-width="0.95"/>
<rect x="406.80" y="203.55" width="8.40" height="8.23" fill="#f9c0e6" stroke="#1a1a1a" stroke-width="0.95"/>
<rect x="415.20" y="203.55" width="8.40" height="8.23" fill="#4a00aa" stroke="#1a1a1a" stroke-width="0.95"/>
<rect x="423.60" y="203.55" width="8.40" height="8.23" fill="#ff6060" stroke="#1a1a1a" stroke-width="0.95"/>
<rect x="432.00" y="203.55" width="8.40" height="8.23" fill="#ff0a0a" stroke="#1a1a1a" stroke-width="0.95"/>
<rect x="440.40" y="203.55" width="8.40" height="8.23" fill="#d0d4f8" stroke="#1a1a1a" stroke-width="0.95"/>
<text x="455.80" y="211.68" font-family="'Liberation Mono', monospace" font-size="7.6" font-weight="normal" fill="#1e1e1e" text-anchor="start" stroke="#1e1e1e" stroke-width="0.12">Nfkbia</text>
<line x1="448.80" y1="211.78" x2="521.00" y2="211.78" stroke="#666" stroke-width="1.0" />
<rect x="398.40" y="211.78" width="8.40" height="8.23" fill="#4a00aa" stroke="#1a1a1a" stroke-width="0.95"/>
<rect x="406.80" y="211.78" width="8.40" height="8.23" fill="#d0d4f8" stroke="#1a1a1a" stroke-width="0.95"/>
<rect x="415.20" y="211.78" width="8.40" height="8.23" fill="#4a00aa" stroke="#1a1a1a" stroke-width="0.95"/>
<rect x="423.60" y="211.78" width="8.40" height="8.23" fill="#ff0a0a" stroke="#1a1a1a" stroke-width="0.95"/>
<rect x="432.00" y="211.78" width="8.40" height="8.23" fill="#f9c0e6" stroke="#1a1a1a" stroke-width="0.95"/>
<rect x="440.40" y="211.78" width="8.40" height="8.23" fill="#ff6060" stroke="#1a1a1a" stroke-width="0.95"/>
<text x="455.80" y="219.91" font-family="'Liberation Mono', monospace" font-size="7.6" font-weight="normal" fill="#1e1e1e" text-anchor="start" stroke="#1e1e1e" stroke-width="0.12">Rela</text>
<line x1="448.80" y1="220.01" x2="521.00" y2="220.01" stroke="#666" stroke-width="1.0" />
<rect x="398.40" y="220.01" width="8.40" height="8.23" fill="#4a00aa" stroke="#1a1a1a" stroke-width="0.95"/>
<rect x="406.80" y="220.01" width="8.40" height="8.23" fill="#d0d4f8" stroke="#1a1a1a" stroke-width="0.95"/>
<rect x="415.20" y="220.01" width="8.40" height="8.23" fill="#4a00aa" stroke="#1a1a1a" stroke-width="0.95"/>
<rect x="423.60" y="220.01" width="8.40" height="8.23" fill="#ff3c3c" stroke="#1a1a1a" stroke-width="0.95"/>
<rect x="432.00" y="220.01" width="8.40" height="8.23" fill="#f9c0e6" stroke="#1a1a1a" stroke-width="0.95"/>
<rect x="440.40" y="220.01" width="8.40" height="8.23" fill="#ff0a0a" stroke="#1a1a1a" stroke-width="0.95"/>
<text x="455.80" y="228.15" font-family="'Liberation Mono', monospace" font-size="7.6" font-weight="normal" fill="#1e1e1e" text-anchor="start" stroke="#1e1e1e" stroke-width="0.12">Fadd</text>
<line x1="448.80" y1="228.25" x2="521.00" y2="228.25" stroke="#666" stroke-width="1.0" />
<rect x="398.40" y="228.25" width="8.40" height="8.23" fill="#7066f0" stroke="#1a1a1a" stroke-width="0.95"/>
<rect x="406.80" y="228.25" width="8.40" height="8.23" fill="#7066f0" stroke="#1a1a1a" stroke-width="0.95"/>
<rect x="415.20" y="228.25" width="8.40" height="8.23" fill="#4a00aa" stroke="#1a1a1a" stroke-width="0.95"/>
<rect x="423.60" y="228.25" width="8.40" height="8.23" fill="#ff7474" stroke="#1a1a1a" stroke-width="0.95"/>
<rect x="432.00" y="228.25" width="8.40" height="8.23" fill="#ff0a0a" stroke="#1a1a1a" stroke-width="0.95"/>
<rect x="440.40" y="228.25" width="8.40" height="8.23" fill="#ff0a0a" stroke="#1a1a1a" stroke-width="0.95"/>
<text x="455.80" y="236.39" font-family="'Liberation Mono', monospace" font-size="7.6" font-weight="normal" fill="#1e1e1e" text-anchor="start" stroke="#1e1e1e" stroke-width="0.12">Ripk1</text>
<line x1="448.80" y1="236.49" x2="521.00" y2="236.49" stroke="#666" stroke-width="1.0" />
<rect x="398.40" y="236.49" width="8.40" height="8.23" fill="#2600dc" stroke="#1a1a1a" stroke-width="0.95"/>
<rect x="406.80" y="236.49" width="8.40" height="8.23" fill="#8a90f0" stroke="#1a1a1a" stroke-width="0.95"/>
<rect x="415.20" y="236.49" width="8.40" height="8.23" fill="#4a00aa" stroke="#1a1a1a" stroke-width="0.95"/>
<rect x="423.60" y="236.49" width="8.40" height="8.23" fill="#ff0a0a" stroke="#1a1a1a" stroke-width="0.95"/>
<rect x="432.00" y="236.49" width="8.40" height="8.23" fill="#f9c0e6" stroke="#1a1a1a" stroke-width="0.95"/>
<rect x="440.40" y="236.49" width="8.40" height="8.23" fill="#ff7474" stroke="#1a1a1a" stroke-width="0.95"/>
<text x="455.80" y="244.62" font-family="'Liberation Mono', monospace" font-size="7.6" font-weight="normal" fill="#1e1e1e" text-anchor="start" stroke="#1e1e1e" stroke-width="0.12">Ikbkb</text>
<line x1="448.80" y1="244.72" x2="521.00" y2="244.72" stroke="#666" stroke-width="1.0" />
<rect x="398.40" y="244.72" width="8.40" height="8.23" fill="#d0d4f8" stroke="#1a1a1a" stroke-width="0.95"/>
<rect x="406.80" y="244.72" width="8.40" height="8.23" fill="#8a90f0" stroke="#1a1a1a" stroke-width="0.95"/>
<rect x="415.20" y="244.72" width="8.40" height="8.23" fill="#4a00aa" stroke="#1a1a1a" stroke-width="0.95"/>
<rect x="423.60" y="244.72" width="8.40" height="8.23" fill="#ff0a0a" stroke="#1a1a1a" stroke-width="0.95"/>
<rect x="432.00" y="244.72" width="8.40" height="8.23" fill="#ff8484" stroke="#1a1a1a" stroke-width="0.95"/>
<rect x="440.40" y="244.72" width="8.40" height="8.23" fill="#f9c0e6" stroke="#1a1a1a" stroke-width="0.95"/>
<text x="455.80" y="252.85" font-family="'Liberation Mono', monospace" font-size="7.6" font-weight="normal" fill="#1e1e1e" text-anchor="start" stroke="#1e1e1e" stroke-width="0.12">Map3k14</text>
<line x1="448.80" y1="252.95" x2="521.00" y2="252.95" stroke="#666" stroke-width="1.0" />
<rect x="398.40" y="252.95" width="8.40" height="8.23" fill="#7066f0" stroke="#1a1a1a" stroke-width="0.95"/>
<rect x="406.80" y="252.95" width="8.40" height="8.23" fill="#7066f0" stroke="#1a1a1a" stroke-width="0.95"/>
<rect x="415.20" y="252.95" width="8.40" height="8.23" fill="#4a00aa" stroke="#1a1a1a" stroke-width="0.95"/>
<rect x="423.60" y="252.95" width="8.40" height="8.23" fill="#ff8484" stroke="#1a1a1a" stroke-width="0.95"/>
<rect x="432.00" y="252.95" width="8.40" height="8.23" fill="#ff0a0a" stroke="#1a1a1a" stroke-width="0.95"/>
<rect x="440.40" y="252.95" width="8.40" height="8.23" fill="#ff8484" stroke="#1a1a1a" stroke-width="0.95"/>
<text x="455.80" y="261.09" font-family="'Liberation Mono', monospace" font-size="7.6" font-weight="normal" fill="#1e1e1e" text-anchor="start" stroke="#1e1e1e" stroke-width="0.12">Map3k1</text>
<line x1="448.80" y1="261.19" x2="521.00" y2="261.19" stroke="#666" stroke-width="1.0" />
<rect x="398.40" y="261.19" width="8.40" height="8.23" fill="#4a00aa" stroke="#1a1a1a" stroke-width="0.95"/>
<rect x="406.80" y="261.19" width="8.40" height="8.23" fill="#4a00aa" stroke="#1a1a1a" stroke-width="0.95"/>
<rect x="415.20" y="261.19" width="8.40" height="8.23" fill="#2600dc" stroke="#1a1a1a" stroke-width="0.95"/>
<rect x="423.60" y="261.19" width="8.40" height="8.23" fill="#ff0a0a" stroke="#1a1a1a" stroke-width="0.95"/>
<rect x="432.00" y="261.19" width="8.40" height="8.23" fill="#ff6060" stroke="#1a1a1a" stroke-width="0.95"/>
<rect x="440.40" y="261.19" width="8.40" height="8.23" fill="#ff7474" stroke="#1a1a1a" stroke-width="0.95"/>
<text x="455.80" y="269.32" font-family="'Liberation Mono', monospace" font-size="7.6" font-weight="normal" fill="#1e1e1e" text-anchor="start" stroke="#1e1e1e" stroke-width="0.12">Traf6</text>
<line x1="448.80" y1="269.43" x2="521.00" y2="269.43" stroke="#666" stroke-width="1.0" />
<line x1="398.40" y1="145.90" x2="521.00" y2="145.90" stroke="#666" stroke-width="1.8" />
<rect x="398.40" y="145.90" width="50.40" height="123.52" fill="none" stroke="#444" stroke-width="1"/>
<text x="455.80" y="137.80" font-family="'Liberation Mono', monospace" font-size="10.2" font-weight="normal" fill="#444" text-anchor="start" >SampleName</text>
<rect x="425.70" y="567.50" width="8.00" height="80.40" fill="#c2c2c2" />
<rect x="433.70" y="567.50" width="8.00" height="80.40" fill="#c2c2c2" />
<rect x="441.70" y="567.50" width="8.00" height="80.40" fill="#c2c2c2" />
<rect x="449.70" y="567.50" width="8.00" height="80.40" fill="#ffc800" />
<rect x="457.70" y="567.50" width="8.00" height="80.40" fill="#ffc800" />
<rect x="465.70" y="567.50" width="8.00" height="80.40" fill="#ffc800" />
<rect x="425.70" y="647.90" width="48.00" height="17.10" fill="#fff" />
<text x="0" y="0" font-family="'Liberation Mono', monospace" font-size="7.55" fill="#1e1e1e" stroke="#1e1e1e" stroke-width="0.18" transform="translate(433.15,647.10) rotate(-90)">cortex_npc_1</text>
<text x="0" y="0" font-family="'Liberation Mono', monospace" font-size="7.55" fill="#1e1e1e" stroke="#1e1e1e" stroke-width="0.18" transform="translate(441.15,647.10) rotate(-90)">cortex_npc_2</text>
<text x="0" y="0" font-family="'Liberation Mono', monospace" font-size="7.55" fill="#1e1e1e" stroke="#1e1e1e" stroke-width="0.18" transform="translate(449.15,647.10) rotate(-90)">cortex_npc_3</text>
<text x="0" y="0" font-family="'Liberation Mono', monospace" font-size="7.55" fill="#1e1e1e" stroke="#1e1e1e" stroke-width="0.18" transform="translate(457.15,647.10) rotate(-90)">cortex_control_1</text>
<text x="0" y="0" font-family="'Liberation Mono', monospace" font-size="7.55" fill="#1e1e1e" stroke="#1e1e1e" stroke-width="0.18" transform="translate(465.15,647.10) rotate(-90)">cortex_control_2</text>
<text x="0" y="0" font-family="'Liberation Mono', monospace" font-size="7.55" fill="#1e1e1e" stroke="#1e1e1e" stroke-width="0.18" transform="translate(473.15,647.10) rotate(-90)">cortex_control_3</text>
<line x1="475.50" y1="578.80" x2="475.50" y2="582.60" stroke="#666" stroke-width="1.0" />
<line x1="475.50" y1="615.80" x2="475.50" y2="619.80" stroke="#666" stroke-width="1.0" />
<line x1="425.70" y1="567.50" x2="425.70" y2="665.00" stroke="#8a8a8a" stroke-width="1.1" />
<line x1="433.70" y1="567.50" x2="433.70" y2="665.00" stroke="#8a8a8a" stroke-width="1.1" />
<line x1="441.70" y1="567.50" x2="441.70" y2="665.00" stroke="#8a8a8a" stroke-width="1.1" />
<line x1="449.70" y1="567.50" x2="449.70" y2="665.00" stroke="#8a8a8a" stroke-width="1.1" />
<line x1="457.70" y1="567.50" x2="457.70" y2="665.00" stroke="#8a8a8a" stroke-width="1.1" />
<line x1="465.70" y1="567.50" x2="465.70" y2="665.00" stroke="#8a8a8a" stroke-width="1.1" />
<line x1="473.70" y1="567.50" x2="473.70" y2="665.00" stroke="#8a8a8a" stroke-width="1.1" />
<rect x="425.70" y="665.00" width="8.00" height="7.99" fill="#f9c0e6" stroke="#1a1a1a" stroke-width="0.95"/>
<rect x="433.70" y="665.00" width="8.00" height="7.99" fill="#ff0a0a" stroke="#1a1a1a" stroke-width="0.95"/>
<rect x="441.70" y="665.00" width="8.00" height="7.99" fill="#ff0a0a" stroke="#1a1a1a" stroke-width="0.95"/>
<rect x="449.70" y="665.00" width="8.00" height="7.99" fill="#4a00b0" stroke="#1a1a1a" stroke-width="0.95"/>
<rect x="457.70" y="665.00" width="8.00" height="7.99" fill="#8a90f0" stroke="#1a1a1a" stroke-width="0.95"/>
<rect x="465.70" y="665.00" width="8.00" height="7.99" fill="#2600dc" stroke="#1a1a1a" stroke-width="0.95"/>
<text x="480.00" y="672.89" font-family="'Liberation Mono', monospace" font-size="7.7" font-weight="normal" fill="#1e1e1e" text-anchor="start" stroke="#1e1e1e" stroke-width="0.12">Tnfrsf1b</text>
<line x1="473.70" y1="672.99" x2="543.60" y2="672.99" stroke="#666" stroke-width="1.0" />
<rect x="425.70" y="672.99" width="8.00" height="7.99" fill="#ff0a0a" stroke="#1a1a1a" stroke-width="0.95"/>
<rect x="433.70" y="672.99" width="8.00" height="7.99" fill="#ff0a0a" stroke="#1a1a1a" stroke-width="0.95"/>
<rect x="441.70" y="672.99" width="8.00" height="7.99" fill="#d0d4f8" stroke="#1a1a1a" stroke-width="0.95"/>
<rect x="449.70" y="672.99" width="8.00" height="7.99" fill="#8a90f0" stroke="#1a1a1a" stroke-width="0.95"/>
<rect x="457.70" y="672.99" width="8.00" height="7.99" fill="#f9c0e6" stroke="#1a1a1a" stroke-width="0.95"/>
<rect x="465.70" y="672.99" width="8.00" height="7.99" fill="#4a00aa" stroke="#1a1a1a" stroke-width="0.95"/>
<text x="480.00" y="680.88" font-family="'Liberation Mono', monospace" font-size="7.7" font-weight="normal" fill="#1e1e1e" text-anchor="start" stroke="#1e1e1e" stroke-width="0.12">Nfkbia</text>
<line x1="473.70" y1="680.98" x2="543.60" y2="680.98" stroke="#666" stroke-width="1.0" />
<rect x="425.70" y="680.98" width="8.00" height="7.99" fill="#ff6878" stroke="#1a1a1a" stroke-width="0.95"/>
<rect x="433.70" y="680.98" width="8.00" height="7.99" fill="#ff3c3c" stroke="#1a1a1a" stroke-width="0.95"/>
<rect x="441.70" y="680.98" width="8.00" height="7.99" fill="#ff0a0a" stroke="#1a1a1a" stroke-width="0.95"/>
<rect x="449.70" y="680.98" width="8.00" height="7.99" fill="#d0d4f8" stroke="#1a1a1a" stroke-width="0.95"/>
<rect x="457.70" y="680.98" width="8.00" height="7.99" fill="#d0d4f8" stroke="#1a1a1a" stroke-width="0.95"/>
<rect x="465.70" y="680.98" width="8.00" height="7.99" fill="#4a00aa" stroke="#1a1a1a" stroke-width="0.95"/>
<text x="480.00" y="688.87" font-family="'Liberation Mono', monospace" font-size="7.7" font-weight="normal" fill="#1e1e1e" text-anchor="start" stroke="#1e1e1e" stroke-width="0.12">Tnfrsf1a</text>
<line x1="473.70" y1="688.97" x2="543.60" y2="688.97" stroke="#666" stroke-width="1.0" />
<rect x="425.70" y="688.97" width="8.00" height="7.99" fill="#d0d4f8" stroke="#1a1a1a" stroke-width="0.95"/>
<rect x="433.70" y="688.97" width="8.00" height="7.99" fill="#ff0a0a" stroke="#1a1a1a" stroke-width="0.95"/>
<rect x="441.70" y="688.97" width="8.00" height="7.99" fill="#ff8484" stroke="#1a1a1a" stroke-width="0.95"/>
<rect x="449.70" y="688.97" width="8.00" height="7.99" fill="#f9c0e6" stroke="#1a1a1a" stroke-width="0.95"/>
<rect x="457.70" y="688.97" width="8.00" height="7.99" fill="#4a00aa" stroke="#1a1a1a" stroke-width="0.95"/>
<rect x="465.70" y="688.97" width="8.00" height="7.99" fill="#4a00aa" stroke="#1a1a1a" stroke-width="0.95"/>
<text x="480.00" y="696.86" font-family="'Liberation Mono', monospace" font-size="7.7" font-weight="normal" fill="#1e1e1e" text-anchor="start" stroke="#1e1e1e" stroke-width="0.12">Myd88</text>
<line x1="473.70" y1="696.96" x2="543.60" y2="696.96" stroke="#666" stroke-width="1.0" />
<rect x="425.70" y="696.96" width="8.00" height="7.99" fill="#4a00aa" stroke="#1a1a1a" stroke-width="0.95"/>
<rect x="433.70" y="696.96" width="8.00" height="7.99" fill="#ff0a0a" stroke="#1a1a1a" stroke-width="0.95"/>
<rect x="441.70" y="696.96" width="8.00" height="7.99" fill="#4a00aa" stroke="#1a1a1a" stroke-width="0.95"/>
<rect x="449.70" y="696.96" width="8.00" height="7.99" fill="#4a00aa" stroke="#1a1a1a" stroke-width="0.95"/>
<rect x="457.70" y="696.96" width="8.00" height="7.99" fill="#4a00aa" stroke="#1a1a1a" stroke-width="0.95"/>
<rect x="465.70" y="696.96" width="8.00" height="7.99" fill="#4a00aa" stroke="#1a1a1a" stroke-width="0.95"/>
<text x="480.00" y="704.85" font-family="'Liberation Mono', monospace" font-size="7.7" font-weight="normal" fill="#1e1e1e" text-anchor="start" stroke="#1e1e1e" stroke-width="0.12">Tnf</text>
<line x1="473.70" y1="704.95" x2="543.60" y2="704.95" stroke="#666" stroke-width="1.0" />
<rect x="425.70" y="704.95" width="8.00" height="7.99" fill="#7878f0" stroke="#1a1a1a" stroke-width="0.95"/>
<rect x="433.70" y="704.95" width="8.00" height="7.99" fill="#ff0a0a" stroke="#1a1a1a" stroke-width="0.95"/>
<rect x="441.70" y="704.95" width="8.00" height="7.99" fill="#d0d4f8" stroke="#1a1a1a" stroke-width="0.95"/>
<rect x="449.70" y="704.95" width="8.00" height="7.99" fill="#8a90f0" stroke="#1a1a1a" stroke-width="0.95"/>
<rect x="457.70" y="704.95" width="8.00" height="7.99" fill="#8a90f0" stroke="#1a1a1a" stroke-width="0.95"/>
<rect x="465.70" y="704.95" width="8.00" height="7.99" fill="#4a00aa" stroke="#1a1a1a" stroke-width="0.95"/>
<text x="480.00" y="712.84" font-family="'Liberation Mono', monospace" font-size="7.7" font-weight="normal" fill="#1e1e1e" text-anchor="start" stroke="#1e1e1e" stroke-width="0.12">Map3k1</text>
<line x1="473.70" y1="712.94" x2="543.60" y2="712.94" stroke="#666" stroke-width="1.0" />
<line x1="425.70" y1="665.00" x2="543.60" y2="665.00" stroke="#666" stroke-width="1.8" />
<rect x="425.70" y="665.00" width="48.00" height="47.94" fill="none" stroke="#444" stroke-width="1"/>
<text x="480.00" y="657.90" font-family="'Liberation Mono', monospace" font-size="9.8" font-weight="normal" fill="#444" text-anchor="start" >SampleName</text>
</svg>
</body></html>
